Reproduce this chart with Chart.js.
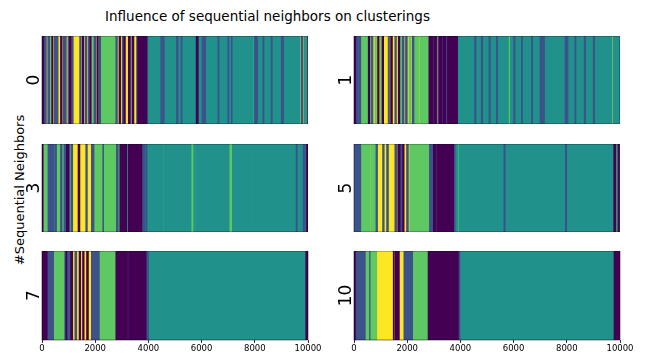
<!DOCTYPE html>
<html>
<head>
<meta charset="utf-8">
<script src="https://cdn.jsdelivr.net/npm/chart.js@4.4.0/dist/chart.umd.min.js"></script>
<style>
html,body{margin:0;padding:0;background:#fff;}
body{width:647px;height:354px;position:relative;overflow:hidden;font-family:"DejaVu Sans",sans-serif;color:#000;}
.w{position:absolute;}
.w canvas{display:block;}
#title{position:absolute;left:0;width:535px;top:8px;text-align:center;font-size:13.5px;line-height:16px;white-space:nowrap;}
#ylab{position:absolute;left:19px;top:190px;font-size:13px;line-height:15px;white-space:nowrap;transform:translate(-50%,-50%) rotate(-90deg);}
</style>
</head>
<body>
<div id="title">Influence of sequential neighbors on clusterings</div>
<div id="ylab">#Sequential Neighbors</div>
<div class="w" id="w0"><canvas id="c0"></canvas></div>
<div class="w" id="w1"><canvas id="c1"></canvas></div>
<div class="w" id="w2"><canvas id="c2"></canvas></div>
<div class="w" id="w3"><canvas id="c3"></canvas></div>
<div class="w" id="w4"><canvas id="c4"></canvas></div>
<div class="w" id="w5"><canvas id="c5"></canvas></div>
<script>
// ---- data ----
const clusterColors = ['#440154', '#3b528b', '#21918c', '#5ec962', '#fde725'];
const panelNames = ['0', '1', '3', '5', '7', '10'];
const xTicks = [0, 2000, 4000, 6000, 8000, 10000];
const xMax = 10000;

const edges0 = [0,60,160,220,280,370,410,470,510,540,600,700,750,800,850,880,910,980,1040,1100,1140,1170,1420,1470,1520,1560,1620,1680,1740,1810,1850,1900,1960,2020,2070,2110,2160,2200,2780,2830,2900,2950,3020,3080,3130,3250,3300,3350,3400,3450,3560,3600,3950,4470,4590,5060,5110,5230,5260,5800,5870,6020,6150,6620,6650,6990,7020,7120,7145,7940,7990,8100,8310,8340,8620,8650,9000,9080,9700,9750,9800,9850,9900,9960,10000];
const labels0 = [0,1,4,1,3,0,4,1,4,1, 4,0,4,1,4,1,4,1,0,4, 1,4,1,4,0,4,1,4,1,0, 4,3,1,4,0,3,1,3,1,4, 0,4,1,0,4,0,1,4,0,4, 1,0,2,1,2,1,2,1,2,0, 2,1,2,1,2,1,2,1,2,3, 1,2,1,2,1,2,1,2,4,1, 4,2,3,1];

const edges1 = [0,60,250,540,590,660,710,790,840,890,940,1000,1060,1110,1290,1330,1380,1440,1540,1590,1670,1720,1820,1880,1940,2000,2070,2130,2190,2250,2440,2480,2820,2970,3020,3100,3150,3200,3300,3350,3450,3520,3890,4540,4580,4790,4830,5080,5120,5360,5390,5800,5880,6010,6050,6300,6330,6680,6710,7000,7160,7940,8040,8310,8340,8660,8700,9000,9040,9700,9750,10000];
const labels1 = [0,1,3,0,3,1,4,3,4,0, 4,3,0,4,1,4,0,4,1,4, 0,3,1,4,1,4,3,4,1,3, 4,3,0,1,0,4,1,0,1,0, 1,0,2,1,2,1,2,1,2,1, 2,3,2,1,2,1,2,1,2,1, 2,1,2,1,2,1,2,1,2,4, 2];

const edges3 = [0,40,230,440,480,540,700,750,830,920,1000,1040,1100,1150,1360,1420,1650,1700,1860,1950,2290,2310,2800,2860,2930,3180,3250,3750,3870,3910,3940,4420,4450,4550,4580,5600,5710,5760,5790,7030,7160,7910,7940,8310,8330,9560,9590,9820,9900,9950,10000];
const labels3 = [0,3,1,3,1,3,1,3,1,0, 1,3,1,4,0,4,1,4,1,3, 1,3,1,3,0,2,0,1,2,1, 2,3,2,3,2,3,2,3,2,3, 2,3,2,3,2,1,2,1,2,0];

const edges5 = [0,250,600,630,830,880,1080,1130,1230,1290,1540,1600,1650,1730,1830,1880,1980,2040,2100,2840,2990,3080,3130,3740,3800,3890,3950,5640,5680,7950,7990,9770,9830,9880,9920,9960,10000];
const labels5 = [1,3,4,3,1,4,1,4,1,4, 1,4,0,1,0,4,1,4,3,1, 0,1,0,1,2,3,2,1,2,1, 2,0,2,4,0,1];

const edges7 = [0,190,430,860,900,930,1080,1150,1240,1300,1400,1450,1530,1580,1680,1740,1860,2150,2780,3210,3260,3910,4000,9920,10000];
const labels7 = [0,1,3,1,0,1,0,4,1,4, 0,4,0,4,0,4,1,3,0,1, 0,1,2,0];

const edges10 = [0,50,420,590,600,850,1480,1510,1550,1700,1880,2200,2790,3920,3980,9780,10000];
const labels10 = [0,1,3,1,3,4,0,4,0,4,1,3,0,1,2,0];

const panelEdges = [edges0, edges1, edges3, edges5, edges7, edges10];
const panelLabels = [labels0, labels1, labels3, labels5, labels7, labels10];

// ---- layout ----
const AXIS_W = 42, PLOT_W = 266, PLOT_H = [88, 88, 89], XAX_H = 14, PAD_R = 16;
const colLeft = [0, 312];
const rowTop = [36, 144, 251];

const framePlugin = {
  id: 'frame',
  afterDraw(chart) {
    const {ctx, chartArea: a} = chart;
    ctx.save();
    ctx.strokeStyle = 'rgba(0,0,0,0.6)';
    ctx.lineWidth = 0.8;
    ctx.strokeRect(a.left, a.top, a.right - a.left, a.bottom - a.top);
    ctx.restore();
  }
};

function makeDatasets(edges, labels) {
  return clusterColors.map((col, k) => ({
    data: labels.map((l, i) => l === k ? {x: [edges[i], edges[i + 1]], y: 'r'} : null).filter(Boolean),
    backgroundColor: col,
    borderWidth: 0,
    grouped: false,
    barPercentage: 1,
    categoryPercentage: 1,
    inflateAmount: 0.5
  }));
}

for (let p = 0; p < 6; p++) {
  const row = Math.floor(p / 2), col = p % 2;
  const bottom = row === 2;
  const w = AXIS_W + PLOT_W + (bottom ? PAD_R : 0);
  const h = PLOT_H[row] + (bottom ? XAX_H : 0);
  const wrap = document.getElementById('w' + p);
  wrap.style.left = colLeft[col] + 'px';
  wrap.style.top = rowTop[row] + 'px';
  const cv = document.getElementById('c' + p);
  cv.width = w; cv.height = h;
  cv.style.width = w + 'px'; cv.style.height = h + 'px';

  new Chart(cv, {
    type: 'bar',
    data: { labels: ['r'], datasets: makeDatasets(panelEdges[p], panelLabels[p]) },
    options: {
      indexAxis: 'y',
      responsive: false,
      animation: false,
      events: [],
      devicePixelRatio: 1,
      layout: { padding: { left: 0, top: 0, bottom: 0, right: bottom ? PAD_R : 0 } },
      plugins: { legend: { display: false }, tooltip: { enabled: false }, title: { display: false } },
      scales: {
        x: {
          type: 'linear',
          min: 0, max: xMax,
          display: bottom,
          afterBuildTicks: s => { s.ticks = xTicks.map(v => ({value: v})); },
          afterFit: s => { s.height = bottom ? XAX_H : 0; },
          grid: { display: true, drawOnChartArea: false, drawTicks: true, tickLength: 3, tickColor: '#000', tickWidth: 0.8 },
          border: { display: false },
          ticks: {
            autoSkip: false, maxRotation: 0, padding: 1, color: '#000',
            font: { family: 'DejaVu Sans', size: 8.5 },
            callback: v => String(v)
          }
        },
        y: {
          type: 'category',
          display: true,
          afterFit: s => { s.width = AXIS_W; },
          grid: { display: false },
          border: { display: false },
          ticks: { display: false },
          title: {
            display: true, text: panelNames[p], color: '#000',
            font: { family: 'DejaVu Sans', size: 17 },
            padding: { top: 24, bottom: 0 }
          }
        }
      }
    },
    plugins: [framePlugin]
  });
}
</script>
</body>
</html>
